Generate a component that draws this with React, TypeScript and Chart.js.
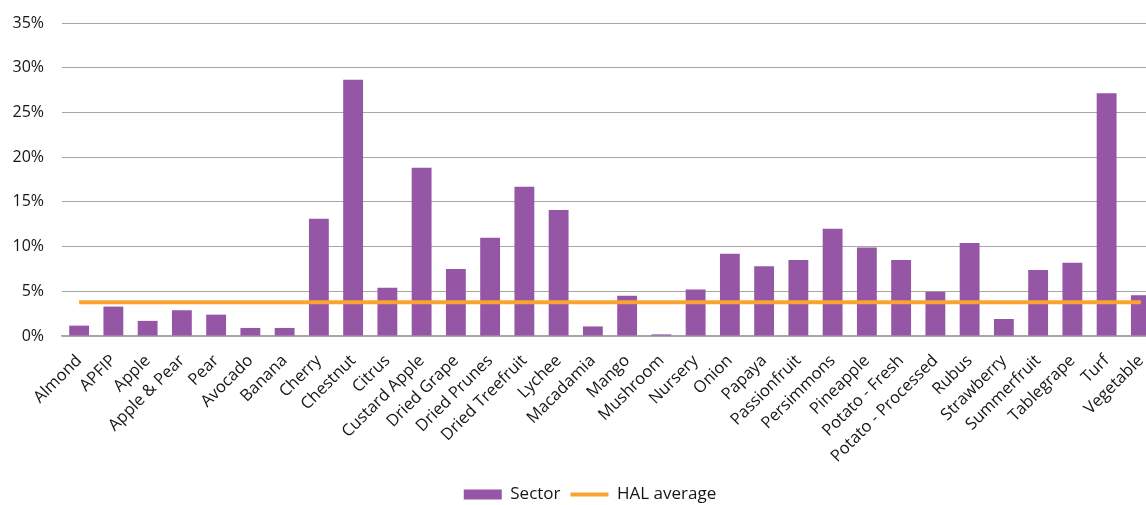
import React, { useEffect, useRef } from "react";
import { Chart, registerables } from "chart.js";

Chart.register(...registerables);

const categories: string[] = [
  "Almond", "APFIP", "Apple", "Apple & Pear", "Pear", "Avocado", "Banana", "Cherry",
  "Chestnut", "Citrus", "Custard Apple", "Dried Grape", "Dried Prunes", "Dried Treefruit",
  "Lychee", "Macadamia", "Mango", "Mushroom", "Nursery", "Onion", "Papaya", "Passionfruit",
  "Persimmons", "Pineapple", "Potato - Fresh", "Potato - Processed", "Rubus", "Strawberry",
  "Summerfruit", "Tablegrape", "Turf", "Vegetable",
];

const sectorValues: number[] = [
  1.16, 3.29, 1.69, 2.88, 2.39, 0.9, 0.9, 13.1,
  28.65, 5.39, 18.8, 7.5, 11.0, 16.7,
  14.1, 1.07, 4.5, 0.18, 5.2, 9.2, 7.8, 8.5,
  12.0, 9.9, 8.5, 4.95, 10.4, 1.9,
  7.37, 8.2, 27.15, 4.56,
];

const halAverage = 3.78;
const halValues: number[] = categories.map(() => halAverage);

const yTicks: number[] = [0, 5, 10, 15, 20, 25, 30, 35];

const PURPLE = "#9656A6";
const ORANGE = "#FBA330";
const TEXT = "#161616";
const FONT = "'Open Sans', sans-serif";

const legendShift = {
  id: "legendShift",
  afterLayout(chart: any) {
    if (chart.legend) {
      chart.legend.left += 5;
      chart.legend.right += 5;
    }
  },
};

export default function App() {
  const ref = useRef<HTMLCanvasElement | null>(null);

  useEffect(() => {
    if (!ref.current) return;
    const chart = new Chart(ref.current, {
      type: "bar",
      data: {
        labels: categories,
        datasets: [
          {
            type: "bar",
            label: "Sector",
            data: sectorValues,
            backgroundColor: PURPLE,
            borderWidth: 0,
            categoryPercentage: 1,
            barPercentage: 0.58,
            order: 1,
          },
          {
            type: "line",
            label: "HAL average",
            data: halValues,
            borderColor: ORANGE,
            backgroundColor: ORANGE,
            borderWidth: 4,
            pointRadius: 0,
            fill: false,
            order: 0,
          } as any,
        ],
      },
      plugins: [legendShift],
      options: {
        animation: false,
        responsive: true,
        maintainAspectRatio: false,
        layout: { padding: { left: 12, right: 26, top: 23, bottom: 0 } },
        plugins: {
          tooltip: { enabled: false },
          legend: {
            position: "bottom",
            labels: {
              font: { family: FONT, size: 17 },
              color: TEXT,
              usePointStyle: true,
              pointStyleWidth: 38,
              boxHeight: 10,
              padding: 10,
              generateLabels: () => [
                {
                  text: "Sector",
                  fillStyle: PURPLE,
                  strokeStyle: PURPLE,
                  lineWidth: 0,
                  pointStyle: "rect",
                  datasetIndex: 0,
                  hidden: false,
                  fontColor: TEXT,
                } as any,
                {
                  text: "HAL average",
                  fillStyle: ORANGE,
                  strokeStyle: ORANGE,
                  lineWidth: 4,
                  pointStyle: "line",
                  datasetIndex: 1,
                  hidden: false,
                  fontColor: TEXT,
                } as any,
              ],
            },
          },
        },
        scales: {
          x: {
            grid: { display: false, drawTicks: false },
            border: { display: true, color: "#A6A6A6", width: 1.5 },
            ticks: {
              autoSkip: false,
              maxRotation: 45,
              minRotation: 45,
              padding: 15,
              color: TEXT,
              font: { family: FONT, size: 16.5 },
            },
            afterFit: (scale: any) => {
              scale.height = 140;
            },
          },
          y: {
            min: 0,
            max: 35,
            afterBuildTicks: (scale: any) => {
              scale.ticks = yTicks.map((v) => ({ value: v }));
            },
            grid: { color: "#A6A6A6", lineWidth: 1, drawTicks: false },
            border: { display: false },
            ticks: {
              padding: 18,
              color: TEXT,
              font: { family: FONT, size: 16 },
              callback: (v: any) => `${v}%`,
            },
            afterFit: (scale: any) => {
              scale.width = 50;
              scale.paddingTop = 0;
              scale.paddingBottom = 0;
            },
          },
        },
      },
    });
    return () => chart.destroy();
  }, []);

  return (
    <div
      style={{
        position: "absolute",
        left: 0,
        top: 0,
        width: 1146,
        height: 505,
        overflow: "hidden",
        background: "#fff",
      }}
    >
      <div style={{ position: "relative", width: 1184, height: 513 }}>
        <canvas ref={ref} />
      </div>
    </div>
  );
}
